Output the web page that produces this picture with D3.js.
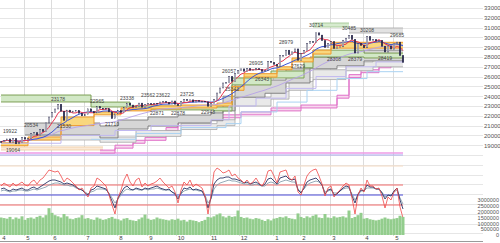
<!DOCTYPE html>
<html>
<head>
<meta charset="utf-8">
<script src="https://cdn.jsdelivr.net/npm/d3@7"></script>
<style>
  body { margin: 0; background: #fff; }
  svg text { font-family: "Liberation Sans", Arial, sans-serif; }
</style>
</head>
<body>
<div id="chart"></div>
<script>
// closes, roughly every 2nd trading day, Apr 2020 -> May 2021
var closes = [
  19353,19498,19638,19290,19669,19137,19262,19771,
  19619,19674,20179,20267,20037,20595,20388,21271,21877,
  22325,22695,23178,22472,21530,22582,22356,22479,22549,22259,21995,
  22145,22714,22438,22290,22945,22770,22751,22715,22397,21710,
  22195,22514,22329,22843,23289,23096,22880,22985,23296,22882,
  23139,23247,23205,23274,23235,23406,23454,23360,23205,23511,23185,
  23029,23433,23647,23558,23626,23410,23567,23474,23494,23418,22977,
  23295,23695,24325,24839,25349,25385,26014,25527,26296,
  26644,26787,26547,26817,26652,26687,26806,26714,26524,26656,27568,27444,
  27258,27056,28139,28164,28698,28242,28523,28822,27663,
  28362,28646,29388,29562,29520,30467,30236,29671,28966,
  29408,29559,28864,29027,29036,29717,29921,30216,29792,28405,29388,29178,
  28938,30089,29697,29768,29620,29683,29100,28508,29126,28812,
  29331,29518,28147,27448
];

// volume in thousands
var volume = [
  1500,1450,1400,1550,1350,1500,1400,1600,
  1300,1450,1500,1400,1550,1650,1500,1700,2300,
  1900,1700,1600,1500,1800,1600,1400,1350,1450,1500,1700,
  1400,1450,1350,1300,1500,1400,1300,1350,1450,1550,
  1400,1350,1250,1400,1450,1300,1250,1200,1350,1500,
  1750,1400,1300,1350,1500,1400,1350,1300,1250,1350,1300,
  1400,1250,1300,1150,1300,1250,1200,1100,1200,1300,1550,
  1500,1600,1750,1850,1600,1500,1650,1550,1600,
  2100,1550,1450,1500,1400,1350,1450,1400,1300,1200,1350,1250,
  1400,1450,1550,1500,1600,1450,1400,1350,1850,
  1550,1450,1600,1500,1650,1750,1500,1450,1800,
  1500,1450,1600,1500,1550,1600,1500,2100,1450,1550,1700,1900,
  1400,1450,1350,1300,1250,1300,1400,1500,1400,1350,
  1400,1450,1650,1550
];

// oscillators (deviation %)
var oscFast = [
  4.5,6,5,4,6,4.5,5.5,6.5,5,4.5,6.5,7.5,5.5,7.5,8.5,10.5,12.5,12,11.5,12,
  9.5,6.5,8.5,7.5,6,4.5,2.5,3.5,1,-1,3.5,4.5,8.5,7.5,6,4.5,0,-5,-9.5,-1.5,
  2.5,7.5,10.5,6.5,4.5,7.5,8.5,4,6,4.5,5.5,6,7,8.5,6.5,5,3.5,4.5,1.5,-4,
  2.5,6.5,5,7.5,4,5.5,4.5,3.5,-0.5,-9.5,0,11.5,13.5,12.5,11,11.5,12.5,9.5,10.5,8.5,
  7.5,6,7.5,5.5,6.5,8.5,6,4.5,7,12,12.5,9.5,6,11.5,12,12.5,8.5,7.5,9.5,1.5,
  0,5,9.5,11.5,12.5,13,9.5,5.5,-0.5,3.5,4.5,-1,1,2.5,4.5,6,5,-1.5,-9.5,0,
  3.5,1.5,7.5,4.5,4.5,3,3.5,-0.5,-6.5,-1,-2.5,1.5,3.5,-6,-11.5
];
var oscMid = [
  3,3.5,2.5,2,3,2.5,3,3.5,2.5,2.5,3.5,4,3,4,
  5,6,7,7.5,7.5,7,6.5,5.5,6,5.5,5,
  4,3,2.5,1,0,2.5,3,4.5,4,3.5,3,
  0.5,-3,-6.5,-1.5,1,
  3.5,4.5,3,2.5,3.5,3,2.5,3.5,3,3.5,4,4.5,3.5,3,2.5,3,1.5,0.5,
  -2,1,3.5,3,4,2.5,3,2.5,2,
  -1,-6.5,-1.5,
  5.5,7.5,8.5,8.5,9,9,8,8,7.5,7,6,6.5,
  5.5,6,6.5,5.5,4.5,5.5,8,8.5,7,5.5,
  8.5,9,9.5,8,7.5,8,
  2.5,1,3.5,
  6.5,7.5,8,8.5,7,5,
  0.5,2.5,3,0,0.5,
  2,3.5,4.5,4,
  -0.5,-4,0.5,
  2.5,2,5,4,4,3,3,
  1,-2,0,-0.5,
  2,3.5,-2.5,-7
];
var oscSlow = [
  2,2.5,2,1.5,2,2,2.5,2.5,2,2,2.5,3,2.5,3,
  3.5,4,5,5.5,6,6,5.5,5,5,4.5,4.5,
  3.5,3,2.5,1.5,0.5,1.5,2,3,3,3,2.5,
  1,-1.5,-4,-2,0,
  2,3,2.5,2.5,3,2.5,2.5,3,2.5,3,3,3.5,3,2.5,2.5,2.5,1.5,1,
  -1,0.5,2,2.5,3,2.5,2.5,2,2,
  0,-4,-2,
  3,5,6,6.5,7,7.5,7,7,6.5,6,5.5,5.5,
  5,5,5.5,5,4.5,4.5,6,6.5,6,5,
  6.5,7,7.5,7,6.5,6.5,
  3,1.5,3,
  5,6,6.5,7,6.5,5,
  1.5,2,2.5,1,1,
  2,3,3.5,3.5,
  0.5,-2.5,0,
  2,2,3.5,3.5,3.5,3,3,
  1.5,-1,0,0,
  1.5,2.5,-1.5,-4.5
];

// step bands: [index, upper, lower]
var greenBand = [[0,24120,23410],[30,23400,22900],[43,23000,22600],[71,22900,22500],[77,25860,25150],[90,26570,25860],[101,27700,26900],[104,28700,28000],[121,28400,27900],[134,28400,27900]];
var orangeBand = [[0,19250,18950],[9,19840,19530],[20,21880,21000],[31,22400,22100],[40,22800,22500],[50,23000,22700],[60,23100,22800],[72,23300,23000],[77,25000,24600],[81,26300,25950],[92,27000,26700],[97,27900,27500],[104,28700,28300],[110,29500,28900],[134,29500,28900]];
var grayBand = [[8,21265,20041],[33,20960,19740],[39,21570,20650],[49,21880,20960],[59,22080,21270],[70,22300,21500],[74,24000,22500],[78,25350,23900],[88,25650,24300],[95,26800,25350],[103,28000,26800],[112,28400,27100],[121,28700,27600],[134,28700,27600]];
var lightGrayBand = [[10,20041,19530],[33,19840,19300],[45,20500,19900],[60,21200,20600],[72,21600,21000],[78,23900,23000],[90,24500,23700],[96,25500,24600],[104,26700,25700],[115,27500,26600],[124,27800,27000],[134,27800,27000]];
var pinkBand = [[33,18500,18200],[38,19000,18700],[44,19500,19200],[48,19800,19500],[55,20800,20500],[59,21600,21300],[66,21900,21600],[70,22100,21800],[80,22400,22100],[90,22800,22500],[100,23100,22800],[112,24100,23800],[116,26200,25900],[120,26700,26400],[126,27200,26900],[130,27700,27400],[133,28200,27900],[134,28200,27900]];
var beigeBand = [[0,18820,18510],[34,18820,18510]];
var topGreenBand = [[104,31470,31060],[116,31470,31060]];
var topGrayBand = [[116,30960,30450],[134,30960,30450]];

var lavenderLine = [[0,19200],[20,20000],[38,20500],[50,21000],[70,21600],[76,23000],[85,23800],[95,24800],[105,26000],[115,27000],[125,27500],[134,27500]];
var skyLine = [[30,19600],[45,20200],[60,20800],[75,21200],[80,22400],[92,23400],[102,24600],[112,25800],[122,26500],[134,26500]];

var levelPrices = [18204, 18000, 16878];

// high / low notes: [index, text, side]
var notes = [
  [3,"19922","up"],[10,"20534","up"],[4,"19064","dn"],
  [19,"23178","up"],[21,"21530","dn"],[32,"22965","up"],[37,"21710","dn"],
  [42,"23338","up"],[49,"23562","up"],[54,"23622","up"],[52,"22871","dn"],
  [62,"23725","up"],[59,"22878","dn"],[69,"22948","dn"],
  [76,"26057","up"],[77,"25343","dn"],[85,"26905","up"],[87,"26343","dn"],
  [95,"28979","up"],[99,"27629","dn"],[105,"30714","up"],[111,"28308","dn"],
  [116,"30485","up"],[118,"28379","dn"],[122,"30208","up"],[128,"28419","dn"],
  [132,"29685","up"]
];

var monthStarts = [0,8,17,28,39,49,59,70,80,91,100,110,121,131];
var monthLabels = ["4","5","6","7","8","9","10","11","12","1","2","3","4","5"];

var W = 500, H = 243;
var svg = d3.select('#chart').append('svg').attr('width', W).attr('height', H);

var x = d3.scaleLinear().domain([0, closes.length - 1]).range([1, 403]);
var yP = d3.scaleLinear().domain([10000, 33000]).range([233.4, 8]);
var yO = d3.scaleLinear().domain([-20, 20]).range([235, 155]);
var yV = d3.scaleLinear().domain([0, 3000]).range([235, 200]);

// grid
svg.append('g').selectAll('line')
  .data(d3.range(10000, 33001, 1000))
  .enter().append('line')
  .attr('x1', 0).attr('x2', 483)
  .attr('y1', function(d){ return Math.round(yP(d)) + .5; })
  .attr('y2', function(d){ return Math.round(yP(d)) + .5; })
  .attr('stroke', '#e6e6e6');

svg.append('g').selectAll('line')
  .data(monthStarts.slice(1))
  .enter().append('line')
  .attr('x1', function(d){ return Math.round(x(d) - 1.5) + .5; })
  .attr('x2', function(d){ return Math.round(x(d) - 1.5) + .5; })
  .attr('y1', 0).attr('y2', 236)
  .attr('stroke', '#dcdcdc');

svg.append('line')
  .attr('x1', 0).attr('x2', 483).attr('y1', 241.5).attr('y2', 241.5)
  .attr('stroke', '#9a9a9a');

// horizontal levels
var levelColors = ['#ee9be6', '#a9a9ee', '#f6dcc4'];
var levelWidths = [1.3, 1, 1.2];
levelPrices.forEach(function(p, i){
  svg.append('line')
    .attr('x1', 0).attr('x2', 403)
    .attr('y1', yP(p)).attr('y2', yP(p))
    .attr('stroke', levelColors[i])
    .attr('stroke-width', levelWidths[i]);
});

function drawBand(rows, fill, edge, edgeW){
  var area = d3.area()
    .x(function(d){ return x(d[0]); })
    .y0(function(d){ return yP(d[2]); })
    .y1(function(d){ return yP(d[1]); })
    .curve(d3.curveStepAfter);
  svg.append('path').attr('d', area(rows)).attr('fill', fill);
  [1, 2].forEach(function(j){
    var line = d3.line()
      .x(function(d){ return x(d[0]); })
      .y(function(d){ return yP(d[j]); })
      .curve(d3.curveStepAfter);
    svg.append('path').attr('d', line(rows))
      .attr('fill', 'none').attr('stroke', edge)
      .attr('stroke-width', edgeW);
  });
}

drawBand(beigeBand, '#fbe9d6', '#efc9a0', 0.8);
drawBand(pinkBand, '#f7d9ee', '#e070c8', 1);
drawBand(lightGrayBand, '#e9e9e9', '#a8a8a8', 0.8);
drawBand(grayBand, '#d6d6d6', '#7a7a7a', 0.9);
drawBand(greenBand, '#d2e8c6', '#7d9f55', 1);
drawBand(topGreenBand, '#d7ebcf', '#9cc28c', 0.8);
drawBand(topGrayBand, '#e2e2e2', '#a6a6a6', 0.8);
drawBand(orangeBand, '#f9d77e', '#ef9a2e', 1);

function drawStepLine(rows, color){
  var line = d3.line()
    .x(function(d){ return x(d[0]); })
    .y(function(d){ return yP(d[1]); })
    .curve(d3.curveStepAfter);
  svg.append('path').attr('d', line(rows))
    .attr('fill', 'none').attr('stroke', color).attr('stroke-width', 1);
}
drawStepLine(lavenderLine, '#c0b8f0');
drawStepLine(skyLine, '#a9d2f2');

// moving averages of the closes
function sma(n){
  return closes.map(function(c, i){
    return d3.mean(closes.slice(Math.max(0, i - n + 1), i + 1));
  });
}
var maLine = d3.line()
  .x(function(d, i){ return x(i); })
  .y(function(d){ return yP(d); });
[[38, '#b7a2e8', 0.9], [13, '#3d55d6', 1], [5, '#e8344e', 1]].forEach(function(m){
  svg.append('path').attr('d', maLine(sma(m[0])))
    .attr('fill', 'none').attr('stroke', m[1]).attr('stroke-width', m[2]);
});

// candles (open = previous close)
svg.append('g').selectAll('rect')
  .data(closes)
  .enter().append('rect')
  .attr('x', function(d, i){ return x(i) - 0.8; })
  .attr('width', 1.6)
  .attr('y', function(d, i){
    var o = i ? closes[i - 1] : d;
    return yP(Math.max(o, d));
  })
  .attr('height', function(d, i){
    var o = i ? closes[i - 1] : d;
    return Math.max(0.8, Math.abs(yP(o) - yP(d)));
  })
  .attr('fill', function(d, i){ return (i && d >= closes[i - 1]) ? '#ffffff' : '#26264a'; })
  .attr('stroke', '#26264a')
  .attr('stroke-width', 0.4);

// notes
svg.append('g').selectAll('text')
  .data(notes)
  .enter().append('text')
  .attr('x', function(d){ return x(d[0]); })
  .attr('y', function(d){ return yP(+d[1]) + (d[2] === 'up' ? -3 : 7.5); })
  .attr('text-anchor', 'middle')
  .attr('font-size', 5)
  .attr('fill', '#444')
  .text(function(d){ return d[1]; });

// price axis labels
var yAxis = svg.append('g')
  .attr('transform', 'translate(483,0)')
  .call(d3.axisRight(yP).tickValues(d3.range(19000, 33001, 1000)).tickSize(0).tickPadding(1).tickFormat(d3.format('d')));
yAxis.select('.domain').remove();
yAxis.selectAll('text').attr('font-size', 6).attr('fill', '#555').attr('font-family', '"Liberation Sans", Arial, sans-serif');

// oscillator panel
[[5, '#f26a6a'], [0, '#4a4ad8'], [-5, '#f26a6a']].forEach(function(r){
  svg.append('line')
    .attr('x1', 0).attr('x2', 403)
    .attr('y1', yO(r[0])).attr('y2', yO(r[0]))
    .attr('stroke', r[1]).attr('stroke-width', 1);
});
var oscLine = d3.line()
  .x(function(d, i){ return x(i); })
  .y(function(d){ return yO(d); });
svg.append('path').attr('d', oscLine(oscSlow)).attr('fill', 'none').attr('stroke', '#8aa2b0').attr('stroke-width', 0.9);
svg.append('path').attr('d', oscLine(oscMid)).attr('fill', 'none').attr('stroke', '#2b3566').attr('stroke-width', 0.9);
svg.append('path').attr('d', oscLine(oscFast)).attr('fill', 'none').attr('stroke', '#f04848').attr('stroke-width', 0.8);

// volume
svg.append('g').selectAll('rect')
  .data(volume)
  .enter().append('rect')
  .attr('x', function(d, i){ return x(i) - 1.5; })
  .attr('width', 3)
  .attr('y', function(d){ return yV(d); })
  .attr('height', function(d){ return yV(0) - yV(d); })
  .attr('fill', '#93cd8d');

var vAxis = svg.append('g')
  .attr('transform', 'translate(499,0)')
  .call(d3.axisRight(yV).tickValues(d3.range(0, 3001, 500)).tickSize(0).tickPadding(0).tickFormat(function(d){ return d * 1000; }));
vAxis.select('.domain').remove();
vAxis.selectAll('text').attr('text-anchor', 'end').attr('font-size', 5.5).attr('fill', '#555').attr('font-family', '"Liberation Sans", Arial, sans-serif');

// month labels
svg.append('g').selectAll('text')
  .data(monthStarts)
  .enter().append('text')
  .attr('x', function(d){ return x(d) + 3; })
  .attr('y', 240)
  .attr('text-anchor', 'middle')
  .attr('font-size', 6)
  .attr('fill', '#444')
  .text(function(d, i){ return monthLabels[i]; });
</script>
</body>
</html>
